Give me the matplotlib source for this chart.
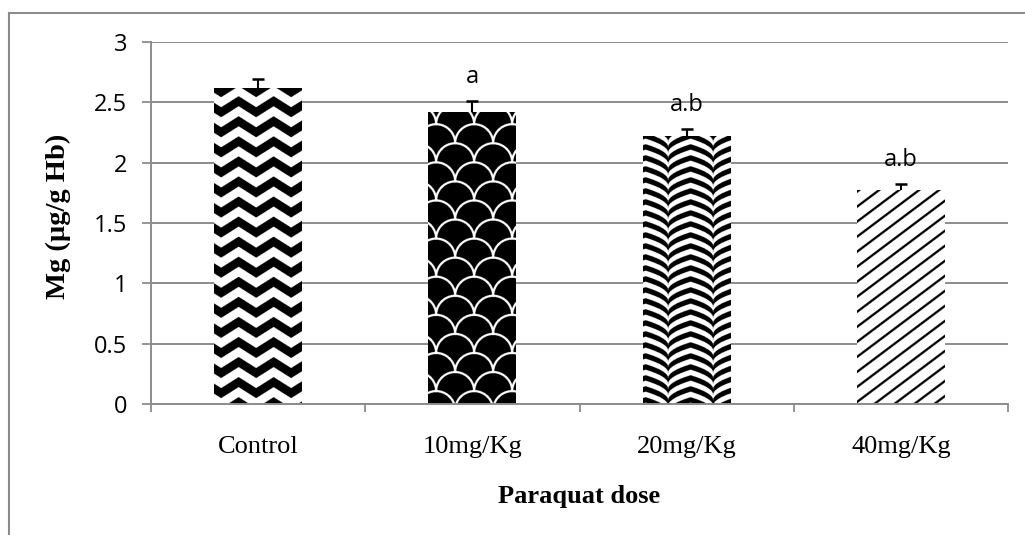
import numpy as np
import matplotlib
matplotlib.use('Agg')
import matplotlib.pyplot as plt
from matplotlib.lines import Line2D

# data
groups = ['Control', '10mg/Kg', '20mg/Kg', '40mg/Kg']
mg_mean = [2.62, 2.42, 2.22, 1.77]
mg_err = [0.07, 0.09, 0.06, 0.05]
sig_labels = ['', 'a', 'a.b', 'a.b']
fills = ['zigzag', 'scales', 'herringbone', 'diagonal']
yticks = [0, 0.5, 1, 1.5, 2, 2.5, 3]

GRAY = '#8c8c8c'
SANS = ['Open Sans', 'DejaVu Sans']
SERIF = ['Liberation Serif', 'DejaVu Serif']


# ---- fill patterns, drawn in pixel units (x right, y down from bar top) ----
def zigzag(x, y, w, h):
    px, py, amp = 35.0, 20.0, 11.0
    tri = np.abs((x / px + 0.3) % 1.0 - 0.5) * 2
    return ((y + amp * tri) % py) < py / 2


def scales(x, y, w, h):
    R, lw = 19.0, 2.2
    white = np.zeros(x.shape, dtype=bool)
    for r in range(-1, int(h / R) + 3):
        cy = r * R - 6
        off = R if r % 2 else 0.0
        for cx in np.arange(-2 * R + off + 8, w + 2 * R, 2 * R):
            d = np.hypot(x - cx, y - cy)
            white[d < R + lw / 2] = False
            white[np.abs(d - R) < lw / 2] = True
    return ~white


def herringbone(x, y, w, h):
    period = 11.0
    d = np.abs(((x - 25.0) + 22.5) % 45.0 - 22.5)
    g = 14.0 * np.sqrt(d / 22.5)
    return ((y + g) % period) < period * 0.5


def diagonal(x, y, w, h):
    return ((y + 0.75 * x) % 15.0) < 2.8


PATTERNS = {'zigzag': zigzag, 'scales': scales,
            'herringbone': herringbone, 'diagonal': diagonal}

fig = plt.figure(figsize=(10.25, 5.35), dpi=100)
ax = fig.add_axes([151 / 1025, 1 - 404 / 535, 857 / 1025, 362 / 535])

xpos = np.arange(len(groups))
ax.set_xlim(-0.5, len(groups) - 0.5)
ax.set_ylim(0, 3)

bars = ax.bar(xpos, mg_mean, width=0.41, color='white', edgecolor='none', zorder=2)

ss = 3
for bar, kind in zip(bars, fills):
    x0, y0 = bar.get_x(), bar.get_y()
    x1, y1 = x0 + bar.get_width(), y0 + bar.get_height()
    (p0x, p0y), (p1x, p1y) = ax.transData.transform([(x0, y0), (x1, y1)])
    w, h = p1x - p0x, p1y - p0y
    ny, nx = int(round(h * ss)), int(round(w * ss))
    yy, xx = np.mgrid[0:ny, 0:nx] / ss
    mask = PATTERNS[kind](xx, yy, w, h)
    # row 0 is the bar top, so flip for origin='lower'
    img = np.flipud(np.where(mask, 0.0, 1.0))
    im = ax.imshow(img, cmap='gray', vmin=0, vmax=1, extent=(x0, x1, y0, y1),
                   origin='lower', aspect='auto', interpolation='antialiased',
                   zorder=2.5)
    im.set_clip_path(bar)

eb = ax.errorbar(xpos, mg_mean, yerr=[np.zeros(len(mg_err)), mg_err], fmt='none',
                 ecolor='black', elinewidth=1.5, capsize=4.3, capthick=1.8, zorder=4)
for cl in eb[1]:
    if np.allclose(cl.get_ydata(), mg_mean):
        cl.set_visible(False)

for i, (m, e, lab) in enumerate(zip(mg_mean, mg_err, sig_labels)):
    if lab:
        ax.text(i, m + e + 0.2, lab, ha='center', va='center',
                fontsize=17, family=SANS, color='black', zorder=5)

ax.set_xlim(-0.5, len(groups) - 0.5)
ax.set_ylim(0, 3)

ax.set_yticks(yticks)
ax.set_yticklabels([f'{t:g}' for t in yticks], family=SANS, fontsize=17)
ax.yaxis.grid(True, color=GRAY, linewidth=1.4, zorder=0)
ax.set_axisbelow(True)

ax.set_xticks(xpos)
ax.set_xticklabels(groups, family=SERIF, fontsize=19)
ax.set_xticks(np.arange(-0.5, len(groups)), minor=True)
ax.tick_params(axis='x', which='major', length=0, pad=23)
ax.tick_params(axis='x', which='minor', length=5.8, width=1.3, color=GRAY)
ax.tick_params(axis='y', length=6.5, width=1.3, color=GRAY, pad=10.5)

for side in ['top', 'right']:
    ax.spines[side].set_visible(False)
for side in ['left', 'bottom']:
    ax.spines[side].set_color(GRAY)
    ax.spines[side].set_linewidth(1.4)

fig.text(58 / 1025, 1 - 216 / 535, 'Mg (µg/g Hb)', rotation=90, ha='center',
         va='center', family=SERIF, fontsize=20.5, fontweight='bold')
fig.text(579.5 / 1025, 1 - 503 / 535, 'Paraquat dose', ha='center', va='baseline',
         family=SERIF, fontsize=19, fontweight='bold')

# outer chart border (left and top visible)
fig.add_artist(Line2D([9 / 1025, 9 / 1025], [0, 1 - 13 / 535],
                      transform=fig.transFigure, color=GRAY, linewidth=1.5))
fig.add_artist(Line2D([9 / 1025, 1], [1 - 13 / 535, 1 - 13 / 535],
                      transform=fig.transFigure, color=GRAY, linewidth=1.5))

fig.savefig('out.png', dpi=100)
